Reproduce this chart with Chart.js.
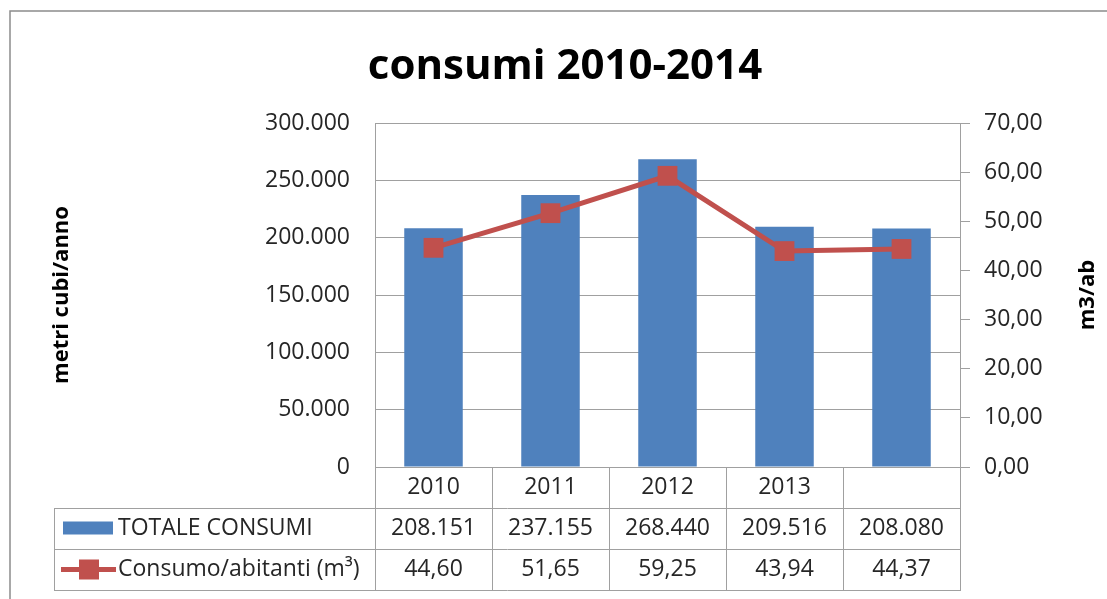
<!DOCTYPE html>
<html>
<head>
<meta charset="utf-8">
<script src="https://cdn.jsdelivr.net/npm/chart.js@4.4.0/dist/chart.umd.min.js"></script>
<style>
  html, body { margin: 0; padding: 0; background: #fff; overflow: hidden; }
  canvas { display: block; }
</style>
</head>
<body>
<canvas id="chart" width="1107" height="599"></canvas>
<script>
// data
const years = ['2010', '2011', '2012', '2013', ''];
const totaleConsumi = [208151, 237155, 268440, 209516, 208080];
const consumoAbitanti = [44.60, 51.65, 59.25, 43.94, 44.37];
const leftAxis = [0, 300000, 50000];   // min, max, step
const rightAxis = [0, 70, 10];

const FONT = "'Open Sans', sans-serif";
const blue = '#4F81BD';
const red = '#C0504D';
const gridColor = '#A0A0A0';
const textColor = '#262626';

function fmtInt(v) {
    return Math.round(v).toString().replace(/\B(?=(\d{3})+(?!\d))/g, '.');
}
function fmtDec(v) {
    return Number(v).toFixed(2).replace('.', ',');
}

// draws the frame, titles and the data table under the plot
const tablePlugin = {
    id: 'tablePlugin',
    afterDraw(chart) {
        const ctx = chart.ctx;
        const area = chart.chartArea;
        const xs = chart.scales.x;
        ctx.save();

        // outer frame
        ctx.strokeStyle = '#8C8C8C';
        ctx.lineWidth = 1.5;
        ctx.strokeRect(10, 11, 1200, 700);

        // title
        ctx.fillStyle = '#000';
        ctx.font = 'bold 42px ' + FONT;
        ctx.textAlign = 'center';
        ctx.textBaseline = 'alphabetic';
        ctx.fillText('consumi 2010-2014', 565, 79);

        // axis titles
        const midY = (area.top + area.bottom) / 2;
        ctx.font = 'bold 22px ' + FONT;
        ctx.textBaseline = 'middle';
        ctx.save();
        ctx.translate(62, midY);
        ctx.rotate(-Math.PI / 2);
        ctx.fillText('metri cubi/anno', 0, 0);
        ctx.restore();
        ctx.save();
        ctx.translate(1088, midY);
        ctx.rotate(-Math.PI / 2);
        ctx.fillText('m3/ab', 0, 0);
        ctx.restore();

        // table grid
        const n = years.length;
        const catW = xs.getPixelForValue(1) - xs.getPixelForValue(0);
        const bounds = [];
        for (let i = 0; i <= n; i++) bounds.push(xs.getPixelForValue(i) - catW / 2);
        const top = area.bottom;
        const rowH = 41;
        const tableLeft = 54;

        ctx.strokeStyle = gridColor;
        ctx.lineWidth = 1;
        ctx.beginPath();
        bounds.forEach(x => {
            ctx.moveTo(Math.round(x) + 0.5, top);
            ctx.lineTo(Math.round(x) + 0.5, top + rowH * 3);
        });
        ctx.moveTo(tableLeft + 0.5, top + rowH);
        ctx.lineTo(tableLeft + 0.5, top + rowH * 3);
        for (let r = 1; r <= 3; r++) {
            const y = Math.round(top + rowH * r) + 0.5;
            ctx.moveTo(tableLeft, y);
            ctx.lineTo(Math.round(bounds[n]) + 1, y);
        }
        ctx.stroke();

        // cell texts
        ctx.fillStyle = textColor;
        ctx.font = '23px ' + FONT;
        ctx.textAlign = 'center';
        ctx.textBaseline = 'middle';
        for (let i = 0; i < n; i++) {
            const cx = xs.getPixelForValue(i);
            ctx.fillText(years[i], cx, top + rowH * 0.5);
            ctx.fillText(fmtInt(totaleConsumi[i]), cx, top + rowH * 1.5);
            ctx.fillText(fmtDec(consumoAbitanti[i]), cx, top + rowH * 2.5);
        }

        // legend keys and names
        const ds = chart.data.datasets;
        const y1 = top + rowH * 1.5;
        const y2 = top + rowH * 2.5;
        ctx.fillStyle = blue;
        ctx.fillRect(63, y1 - 7, 50, 13);
        ctx.strokeStyle = red;
        ctx.lineWidth = 5;
        ctx.beginPath();
        ctx.moveTo(61, y2);
        ctx.lineTo(116, y2);
        ctx.stroke();
        ctx.fillStyle = red;
        ctx.fillRect(79, y2 - 10, 20, 20);

        ctx.fillStyle = textColor;
        ctx.textAlign = 'left';
        ctx.fillText(ds[1].label, 118, y1);
        ctx.fillText(ds[0].label, 118, y2);

        ctx.restore();
    }
};

const ctx = document.getElementById('chart').getContext('2d');

new Chart(ctx, {
    type: 'bar',
    data: {
        labels: years,
        datasets: [
            {
                type: 'line',
                label: 'Consumo/abitanti (m³)',
                data: consumoAbitanti,
                yAxisID: 'y1',
                borderColor: red,
                backgroundColor: red,
                borderWidth: 5,
                pointStyle: 'rect',
                pointRadius: 14,
                pointBorderWidth: 0,
                tension: 0,
                order: 0
            },
            {
                type: 'bar',
                label: 'TOTALE CONSUMI',
                data: totaleConsumi,
                yAxisID: 'y',
                backgroundColor: blue,
                barPercentage: 0.5,
                categoryPercentage: 1,
                order: 1
            }
        ]
    },
    options: {
        responsive: false,
        animation: false,
        layout: { padding: { top: 123, left: 0, right: 0, bottom: 0 } },
        plugins: {
            legend: { display: false },
            title: { display: false },
            tooltip: { enabled: false }
        },
        scales: {
            x: {
                grid: { display: false },
                border: { display: false },
                ticks: { display: false },
                afterFit: s => { s.height = 132; }
            },
            y: {
                position: 'left',
                min: leftAxis[0],
                max: leftAxis[1],
                ticks: {
                    stepSize: leftAxis[2],
                    callback: v => fmtInt(v),
                    padding: 25,
                    color: textColor,
                    font: { family: FONT, size: 23 }
                },
                grid: { color: gridColor, drawTicks: false },
                border: { color: gridColor },
                afterFit: s => { s.width = 375; }
            },
            y1: {
                position: 'right',
                min: rightAxis[0],
                max: rightAxis[1],
                ticks: {
                    stepSize: rightAxis[2],
                    callback: v => fmtDec(v),
                    padding: 14,
                    color: textColor,
                    font: { family: FONT, size: 23 }
                },
                grid: { drawOnChartArea: false, color: gridColor, tickLength: 10 },
                border: { color: gridColor },
                afterFit: s => { s.width = 147; }
            }
        }
    },
    plugins: [tablePlugin]
});
</script>
</body>
</html>
